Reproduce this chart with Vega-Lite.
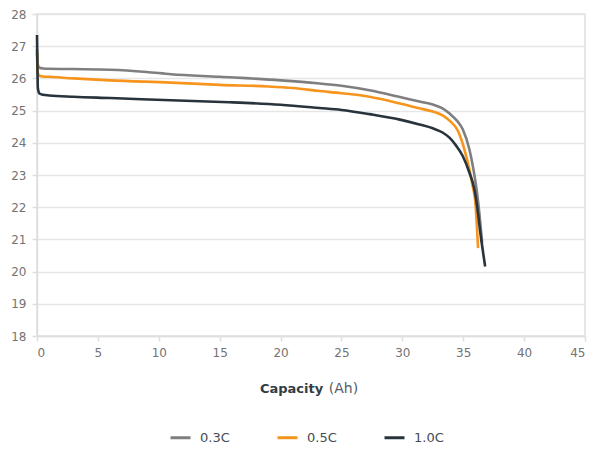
{
  "$schema": "https://vega.github.io/schema/vega-lite/v6.json",
  "width": 548,
  "height": 322,
  "autosize": {"type": "none"},
  "padding": {"left": 37, "top": 14, "right": 18, "bottom": 113},
  "background": "white",
  "config": {
    "font": "DejaVu Sans",
    "view": {"stroke": "#dedede", "strokeWidth": 1.5},
    "axis": {"labelFont": "DejaVu Sans", "labelColor": "#737373", "labelFontSize": 12, "labelOverlap": false, "domainColor": "#dedede", "tickColor": "#dedede", "gridColor": "#e6e6e6", "gridWidth": 1.5, "domainWidth": 1.5, "tickWidth": 1.5, "tickSize": 5}
  },
  "data": {"values": [
    {"x": 0, "v": 26.9, "s": "0.3C"}, {"x": 0.05, "v": 26.45, "s": "0.3C"}, {"x": 0.2, "v": 26.33, "s": "0.3C"}, {"x": 0.5, "v": 26.31, "s": "0.3C"}, {"x": 1, "v": 26.3, "s": "0.3C"}, {"x": 3, "v": 26.29, "s": "0.3C"}, {"x": 6, "v": 26.27, "s": "0.3C"}, {"x": 9, "v": 26.2, "s": "0.3C"}, {"x": 11, "v": 26.13, "s": "0.3C"}, {"x": 15, "v": 26.05, "s": "0.3C"}, {"x": 20, "v": 25.94, "s": "0.3C"}, {"x": 23, "v": 25.85, "s": "0.3C"}, {"x": 25, "v": 25.77, "s": "0.3C"}, {"x": 27.3, "v": 25.63, "s": "0.3C"}, {"x": 29.8, "v": 25.42, "s": "0.3C"}, {"x": 31.4, "v": 25.28, "s": "0.3C"}, {"x": 32.5, "v": 25.19, "s": "0.3C"}, {"x": 33.3, "v": 25.07, "s": "0.3C"}, {"x": 33.9, "v": 24.9, "s": "0.3C"}, {"x": 34.5, "v": 24.68, "s": "0.3C"}, {"x": 34.96, "v": 24.42, "s": "0.3C"}, {"x": 35.51, "v": 23.79, "s": "0.3C"}, {"x": 35.84, "v": 23.17, "s": "0.3C"}, {"x": 36.06, "v": 22.65, "s": "0.3C"}, {"x": 36.25, "v": 22.08, "s": "0.3C"}, {"x": 36.55, "v": 20.9, "s": "0.3C"},
    {"x": 0, "v": 26.8, "s": "0.5C"}, {"x": 0.05, "v": 26.2, "s": "0.5C"}, {"x": 0.2, "v": 26.08, "s": "0.5C"}, {"x": 0.5, "v": 26.06, "s": "0.5C"}, {"x": 1, "v": 26.05, "s": "0.5C"}, {"x": 3, "v": 26.0, "s": "0.5C"}, {"x": 6, "v": 25.94, "s": "0.5C"}, {"x": 11, "v": 25.87, "s": "0.5C"}, {"x": 15, "v": 25.8, "s": "0.5C"}, {"x": 19, "v": 25.75, "s": "0.5C"}, {"x": 21, "v": 25.7, "s": "0.5C"}, {"x": 23.2, "v": 25.61, "s": "0.5C"}, {"x": 25, "v": 25.54, "s": "0.5C"}, {"x": 27.3, "v": 25.43, "s": "0.5C"}, {"x": 29.8, "v": 25.22, "s": "0.5C"}, {"x": 31.4, "v": 25.07, "s": "0.5C"}, {"x": 32.5, "v": 24.97, "s": "0.5C"}, {"x": 33.3, "v": 24.85, "s": "0.5C"}, {"x": 33.9, "v": 24.68, "s": "0.5C"}, {"x": 34.55, "v": 24.38, "s": "0.5C"}, {"x": 35.1, "v": 23.79, "s": "0.5C"}, {"x": 35.51, "v": 23.17, "s": "0.5C"}, {"x": 35.78, "v": 22.65, "s": "0.5C"}, {"x": 36.0, "v": 22.13, "s": "0.5C"}, {"x": 36.1, "v": 21.55, "s": "0.5C"}, {"x": 36.22, "v": 20.73, "s": "0.5C"},
    {"x": 0, "v": 27.35, "s": "1.0C"}, {"x": 0.03, "v": 26.5, "s": "1.0C"}, {"x": 0.07, "v": 25.7, "s": "1.0C"}, {"x": 0.2, "v": 25.53, "s": "1.0C"}, {"x": 0.5, "v": 25.49, "s": "1.0C"}, {"x": 1, "v": 25.47, "s": "1.0C"}, {"x": 3, "v": 25.43, "s": "1.0C"}, {"x": 6, "v": 25.39, "s": "1.0C"}, {"x": 11, "v": 25.32, "s": "1.0C"}, {"x": 15.8, "v": 25.26, "s": "1.0C"}, {"x": 20, "v": 25.18, "s": "1.0C"}, {"x": 23.2, "v": 25.08, "s": "1.0C"}, {"x": 25, "v": 25.02, "s": "1.0C"}, {"x": 27.3, "v": 24.89, "s": "1.0C"}, {"x": 29.8, "v": 24.72, "s": "1.0C"}, {"x": 31.4, "v": 24.57, "s": "1.0C"}, {"x": 32.5, "v": 24.45, "s": "1.0C"}, {"x": 33.3, "v": 24.32, "s": "1.0C"}, {"x": 33.87, "v": 24.16, "s": "1.0C"}, {"x": 34.4, "v": 23.92, "s": "1.0C"}, {"x": 34.96, "v": 23.59, "s": "1.0C"}, {"x": 35.51, "v": 23.07, "s": "1.0C"}, {"x": 35.92, "v": 22.55, "s": "1.0C"}, {"x": 36.15, "v": 22.0, "s": "1.0C"}, {"x": 36.41, "v": 21.2, "s": "1.0C"}, {"x": 36.8, "v": 20.16, "s": "1.0C"}
  ]},
  "encoding": {
    "y": {"field": "v", "type": "quantitative", "scale": {"domain": [18, 28], "nice": false, "zero": false}, "axis": {"values": [18, 19, 20, 21, 22, 23, 24, 25, 26, 27, 28], "title": null, "labelPadding": 6}}
  },
  "layer": [
    {
      "mark": {"type": "line", "interpolate": "monotone", "strokeWidth": 2.6},
      "encoding": {
        "x": {"field": "x", "type": "quantitative", "scale": {"domain": [0, 45], "nice": false}, "axis": {"values": [0, 5, 10, 15, 20, 25, 30, 35, 40, 45], "grid": false, "labelPadding": 6, "title": "Capacity", "titleFont": "DejaVu Sans", "titleFontWeight": "bold", "titleFontSize": 13, "titleColor": "#333c44", "titleX": 254, "titleY": 52, "titleAlign": "center", "titleBaseline": "middle"}},
        "color": {"field": "s", "type": "nominal", "scale": {"domain": ["0.3C", "0.5C", "1.0C"], "range": ["#7f7f81", "#f7941d", "#28333b"]}, "legend": {"title": null, "orient": "none", "direction": "horizontal", "legendX": 132, "legendY": 412, "symbolType": "stroke", "symbolSize": 400, "symbolStrokeWidth": 3, "labelFont": "DejaVu Sans", "labelFontSize": 13, "labelColor": "#444c53", "labelOffset": 8, "columnPadding": 41}},
        "order": {"field": "x", "type": "quantitative"}
      }
    },
    {
      "mark": {"type": "line", "opacity": 0},
      "encoding": {
        "x": {"field": "x", "type": "quantitative", "axis": {"orient": "bottom", "labels": false, "ticks": false, "domain": false, "grid": false, "title": "(Ah)", "titleFont": "DejaVu Sans", "titleFontWeight": "normal", "titleFontSize": 14, "titleColor": "#555c63", "titleX": 306, "titleY": 52, "titleAlign": "center", "titleBaseline": "middle"}},
        "detail": {"field": "s"}
      }
    }
  ],
  "resolve": {"axis": {"x": "independent"}}
}
